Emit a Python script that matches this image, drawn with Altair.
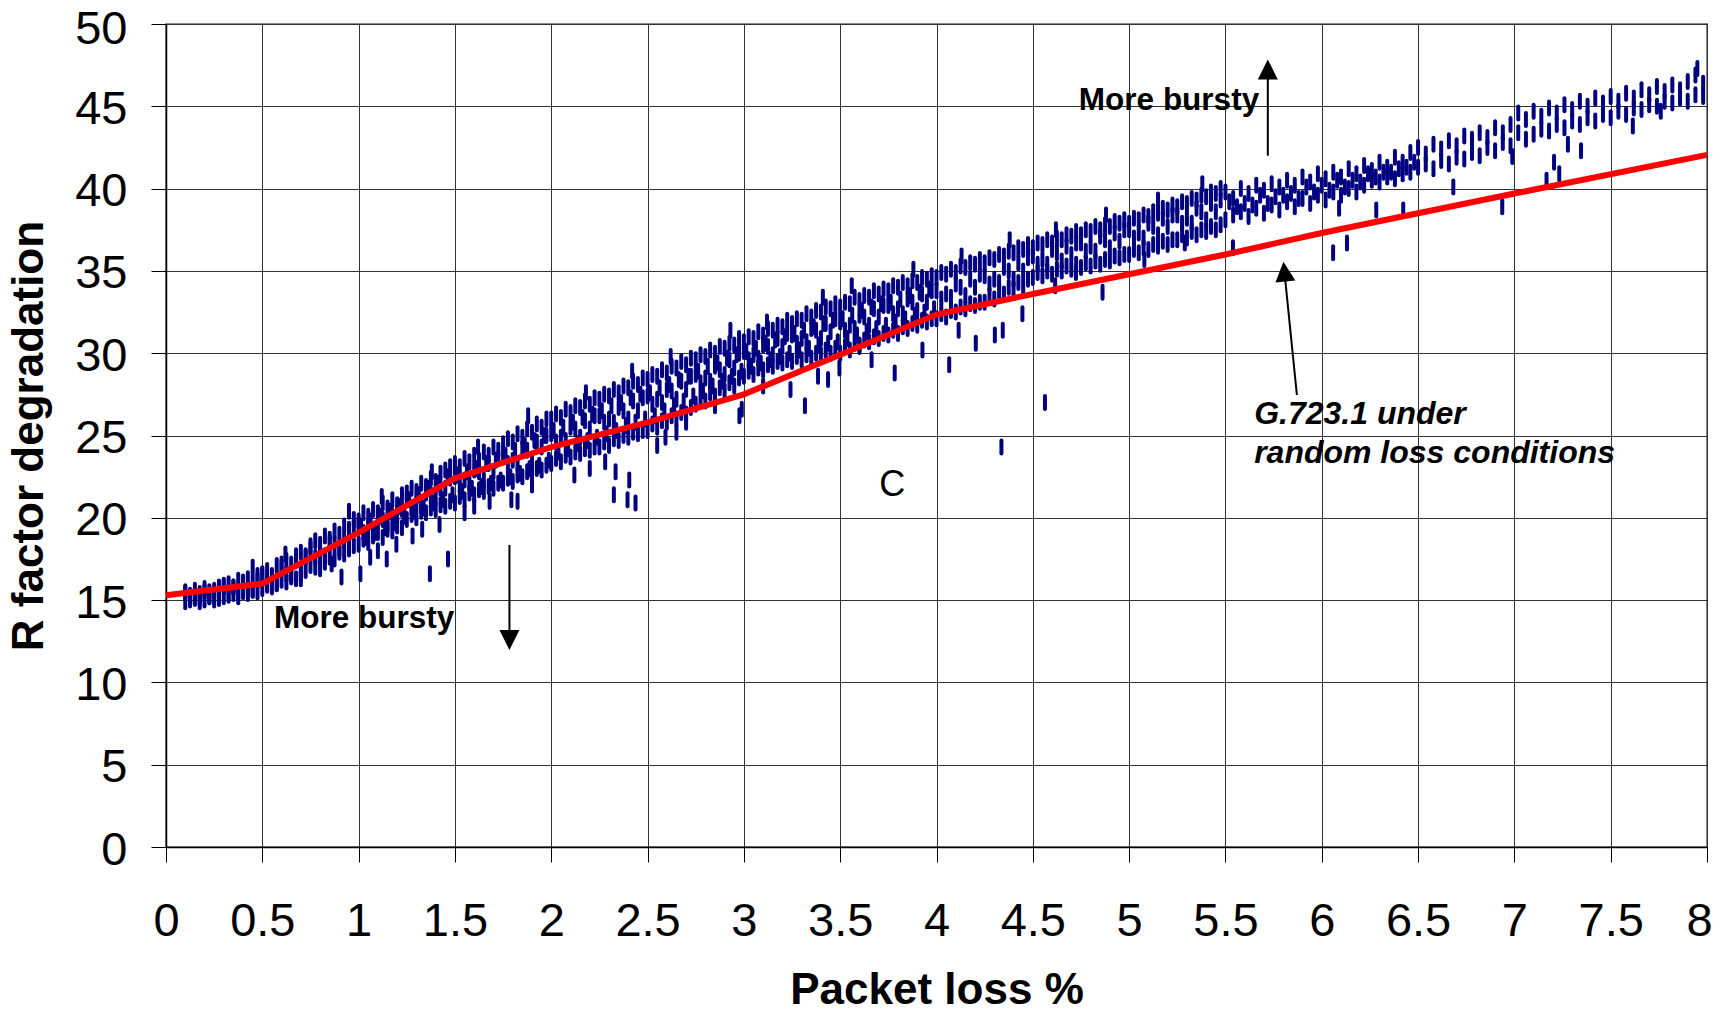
import altair as alt
import pandas as pd

# ---------------- data ----------------
# dense part of the scatter: packet-loss columns, three R readings per column
loss_dense = [
    0.100, 0.125, 0.150, 0.175, 0.200, 0.225, 0.250, 0.275,
    0.300, 0.325, 0.350, 0.375, 0.400, 0.425, 0.450, 0.475,
    0.500, 0.525, 0.550, 0.575, 0.600, 0.625, 0.650, 0.675, 0.700, 0.725,
    0.750, 0.775, 0.800, 0.825, 0.850, 0.875, 0.900, 0.925, 0.950, 0.975,
    1.000, 1.025, 1.050, 1.075, 1.100, 1.125, 1.150, 1.175, 1.200, 1.225,
    1.250, 1.275, 1.300, 1.325, 1.350, 1.375, 1.400, 1.425, 1.450, 1.475,
    1.500, 1.525, 1.550, 1.575, 1.600, 1.625, 1.650, 1.675, 1.700, 1.725,
    1.750, 1.775, 1.800, 1.825, 1.850, 1.875, 1.900, 1.925, 1.950, 1.975,
    2.000, 2.025, 2.050, 2.075, 2.100, 2.125, 2.150, 2.175, 2.200, 2.225,
    2.250, 2.275, 2.300, 2.325, 2.350, 2.375, 2.400, 2.425, 2.450, 2.475,
    2.500, 2.525, 2.550, 2.575, 2.600, 2.625, 2.650, 2.675, 2.700, 2.725,
    2.750, 2.775, 2.800, 2.825, 2.850, 2.875, 2.900, 2.925, 2.950, 2.975,
    3.000, 3.025, 3.050, 3.075, 3.100, 3.125, 3.150, 3.175, 3.200, 3.225,
    3.250, 3.275, 3.300, 3.325, 3.350, 3.375, 3.400, 3.425, 3.450, 3.475,
    3.500, 3.525, 3.550, 3.575, 3.600, 3.625, 3.650, 3.675, 3.700, 3.725,
    3.750, 3.775, 3.800, 3.825, 3.850, 3.875, 3.900, 3.925, 3.950, 3.975,
    4.000, 4.025, 4.050, 4.075, 4.100, 4.125, 4.150, 4.175, 4.200, 4.225,
    4.250, 4.275, 4.300, 4.325, 4.350, 4.375, 4.400, 4.425, 4.450, 4.475,
    4.500, 4.525, 4.550, 4.575, 4.600, 4.625, 4.650, 4.675, 4.700, 4.725,
    4.750, 4.775, 4.800, 4.825, 4.850, 4.875, 4.900, 4.925, 4.950, 4.975,
    5.000, 5.025, 5.050, 5.075, 5.100, 5.125, 5.150, 5.175, 5.200, 5.225,
    5.250, 5.275, 5.300, 5.325, 5.350, 5.375, 5.400, 5.425, 5.450, 5.475,
]
rdeg_dense_top = [
    15.5, 15.3, 15.6, 15.4, 15.7, 15.5, 15.6, 15.8,
    15.9, 16.0, 15.8, 16.2, 16.0, 16.3, 16.1, 16.5,
    16.6, 16.8, 16.5, 17.1, 17.0, 17.4, 17.2, 17.7, 17.9, 17.6,
    18.3, 18.6, 18.4, 18.9, 18.7, 19.2, 19.0, 19.5, 19.3, 19.9,
    19.8, 20.3, 20.1, 20.5, 20.3, 20.9, 20.6, 21.1, 20.8, 21.4,
    21.5, 21.8, 21.6, 22.1, 21.9, 22.4, 22.2, 22.7, 22.9, 23.1,
    23.3, 23.1, 23.6, 23.4, 23.8, 23.5, 24.0, 23.8, 24.3, 24.1,
    24.5, 24.8, 24.6, 25.1, 24.9, 25.4, 25.2, 25.7, 25.5, 26.0,
    26.0, 26.3, 26.1, 26.6, 26.4, 26.8, 26.7, 27.1, 26.9, 27.3,
    27.2, 27.5, 27.4, 27.8, 27.6, 28.0, 27.9, 28.3, 28.1, 28.5,
    28.4, 28.7, 28.6, 29.0, 28.8, 29.2, 29.1, 29.5, 29.3, 29.7,
    29.6, 29.9, 29.8, 30.2, 30.0, 30.4, 30.3, 30.6, 30.5, 30.9,
    30.7, 31.0, 30.9, 31.3, 31.1, 31.5, 31.4, 31.7, 31.6, 32.0,
    31.8, 32.1, 32.0, 32.4, 32.2, 32.6, 32.5, 32.8, 32.7, 33.0,
    32.8, 33.1, 33.0, 33.4, 33.2, 33.5, 33.4, 33.8, 33.6, 33.9,
    33.8, 34.1, 34.0, 34.3, 34.1, 34.4, 34.3, 34.6, 34.5, 34.7,
    34.6, 34.9, 34.8, 35.1, 34.9, 35.3, 35.2, 35.5, 35.4, 35.7,
    35.5, 35.8, 35.7, 36.0, 35.9, 36.2, 36.1, 36.4, 36.3, 36.6,
    36.4, 36.7, 36.6, 36.9, 36.7, 37.0, 36.9, 37.2, 37.1, 37.4,
    37.2, 37.5, 37.4, 37.7, 37.5, 37.8, 37.7, 38.0, 37.9, 38.1,
    37.9, 38.2, 38.1, 38.4, 38.3, 38.6, 38.5, 38.8, 38.7, 39.0,
    38.9, 39.2, 39.1, 39.4, 39.3, 39.6, 39.5, 39.8, 39.7, 40.0,
]
rdeg_dense_mid = [
    15.4, 15.2, 15.2, 15.1, 15.5, 15.2, 15.3, 15.5,
    15.8, 15.4, 15.8, 15.4, 16.1, 15.7, 15.6, 16.2,
    16.5, 16.0, 16.3, 16.0, 17.2, 16.6, 16.5, 17.4, 16.9, 17.7,
    18.1, 17.6, 17.9, 17.7, 18.5, 18.4, 18.1, 18.6, 18.7, 19.4,
    19.6, 19.1, 19.4, 19.2, 20.0, 19.9, 19.6, 20.1, 20.2, 20.5,
    21.1, 20.6, 20.9, 20.7, 21.5, 21.4, 21.2, 21.8, 21.8, 22.4,
    22.5, 22.0, 22.3, 22.1, 22.9, 22.8, 22.3, 23.3, 22.8, 23.6,
    23.7, 23.3, 23.5, 23.3, 24.2, 24.1, 23.5, 24.6, 24.3, 25.0,
    25.1, 24.6, 24.9, 24.7, 25.5, 25.4, 24.9, 25.9, 25.4, 26.2,
    26.2, 25.8, 26.0, 25.8, 26.7, 26.5, 26.0, 27.1, 26.5, 27.3,
    27.4, 26.9, 27.2, 27.0, 27.8, 27.7, 27.2, 28.3, 27.8, 28.6,
    28.7, 28.2, 28.5, 28.3, 29.2, 29.0, 28.7, 29.6, 29.1, 30.0,
    30.1, 29.6, 29.9, 29.7, 30.5, 30.4, 29.9, 30.9, 30.4, 31.2,
    31.1, 30.6, 30.9, 30.7, 31.5, 31.4, 30.9, 31.8, 31.3, 32.1,
    31.9, 31.4, 31.7, 31.5, 32.3, 32.2, 31.7, 32.7, 32.2, 32.9,
    32.9, 32.4, 32.7, 32.4, 33.3, 33.1, 32.6, 33.6, 33.1, 33.8,
    33.8, 33.3, 33.6, 33.4, 34.2, 34.0, 33.5, 34.5, 34.0, 34.8,
    34.7, 34.2, 34.5, 34.3, 35.2, 35.0, 34.5, 35.5, 35.0, 35.8,
    35.9, 35.4, 35.7, 35.4, 36.3, 36.1, 35.6, 36.5, 36.0, 36.7,
    36.7, 36.2, 36.5, 36.2, 37.1, 36.9, 36.4, 37.3, 36.8, 37.5,
    37.5, 37.0, 37.3, 37.0, 37.9, 37.7, 37.2, 38.2, 37.7, 38.4,
    38.4, 37.9, 38.2, 37.9, 38.8, 38.6, 38.1, 39.1, 38.6, 39.3,
]
rdeg_dense_bot = [
    14.9, 15.0, 15.1, 14.9, 15.0, 15.2, 15.0, 15.1,
    15.2, 15.3, 15.4, 15.2, 15.5, 15.4, 15.6, 15.5,
    15.7, 15.9, 15.8, 16.0, 16.2, 16.1, 16.4, 16.3, 16.6, 16.8,
    17.1, 17.0, 17.4, 17.3, 17.6, 17.5, 17.9, 17.8, 18.1, 18.3,
    18.4, 18.7, 18.5, 18.9, 19.1, 18.8, 19.3, 19.2, 19.5, 19.4,
    19.9, 20.2, 20.0, 20.4, 20.3, 20.6, 20.5, 20.8, 20.7, 21.0,
    20.9, 21.3, 21.1, 21.5, 21.4, 21.7, 21.6, 21.9, 21.8, 22.1,
    22.1, 22.4, 22.2, 22.6, 22.5, 22.8, 22.7, 23.0, 22.9, 23.2,
    23.3, 23.6, 23.4, 23.8, 23.7, 24.0, 23.9, 24.2, 24.1, 24.3,
    24.3, 24.6, 24.4, 24.8, 24.7, 25.0, 24.9, 25.2, 25.1, 25.3,
    25.3, 25.7, 25.5, 25.9, 25.8, 26.2, 26.0, 26.4, 26.3, 26.7,
    26.9, 27.3, 27.1, 27.6, 27.4, 27.9, 27.7, 28.2, 28.0, 28.5,
    28.6, 28.9, 28.7, 29.1, 29.0, 29.3, 29.2, 29.5, 29.4, 29.6,
    29.5, 29.8, 29.6, 29.9, 29.7, 30.0, 29.9, 30.2, 30.0, 30.3,
    30.0, 30.4, 30.2, 30.6, 30.5, 30.8, 30.7, 31.0, 30.9, 31.2,
    31.1, 31.4, 31.2, 31.6, 31.5, 31.8, 31.7, 32.0, 31.9, 32.1,
    32.1, 32.4, 32.2, 32.6, 32.5, 32.8, 32.7, 33.0, 32.9, 33.1,
    33.1, 33.5, 33.3, 33.8, 33.6, 34.0, 33.9, 34.3, 34.1, 34.5,
    34.6, 34.9, 34.7, 35.0, 34.8, 35.1, 35.0, 35.3, 35.1, 35.4,
    35.2, 35.5, 35.3, 35.6, 35.4, 35.7, 35.6, 35.9, 35.8, 36.0,
    36.0, 36.3, 36.1, 36.4, 36.3, 36.6, 36.5, 36.8, 36.6, 36.9,
    36.9, 37.2, 37.0, 37.4, 37.2, 37.5, 37.4, 37.7, 37.5, 37.8,
]
# extra readings between the columns where the band is solid (1 .. 4)
loss_fill = [
    1.0125, 1.0375, 1.0625, 1.0875, 1.1125, 1.1375, 1.1625, 1.1875, 1.2125, 1.2375,
    1.2625, 1.2875, 1.3125, 1.3375, 1.3625, 1.3875, 1.4125, 1.4375, 1.4625, 1.4875,
    1.5125, 1.5375, 1.5625, 1.5875, 1.6125, 1.6375, 1.6625, 1.6875, 1.7125, 1.7375,
    1.7625, 1.7875, 1.8125, 1.8375, 1.8625, 1.8875, 1.9125, 1.9375, 1.9625, 1.9875,
    2.0125, 2.0375, 2.0625, 2.0875, 2.1125, 2.1375, 2.1625, 2.1875, 2.2125, 2.2375,
    2.2625, 2.2875, 2.3125, 2.3375, 2.3625, 2.3875, 2.4125, 2.4375, 2.4625, 2.4875,
    2.5125, 2.5375, 2.5625, 2.5875, 2.6125, 2.6375, 2.6625, 2.6875, 2.7125, 2.7375,
    2.7625, 2.7875, 2.8125, 2.8375, 2.8625, 2.8875, 2.9125, 2.9375, 2.9625, 2.9875,
    3.0125, 3.0375, 3.0625, 3.0875, 3.1125, 3.1375, 3.1625, 3.1875, 3.2125, 3.2375,
    3.2625, 3.2875, 3.3125, 3.3375, 3.3625, 3.3875, 3.4125, 3.4375, 3.4625, 3.4875,
    3.5125, 3.5375, 3.5625, 3.5875, 3.6125, 3.6375, 3.6625, 3.6875, 3.7125, 3.7375,
    3.7625, 3.7875, 3.8125, 3.8375, 3.8625, 3.8875, 3.9125, 3.9375, 3.9625, 3.9875,
]
rdeg_fill = [
    19.5, 18.8, 19.8, 19.1, 20.1, 19.4, 20.4, 19.7, 20.7, 20.1,
    21.1, 20.4, 21.4, 20.6, 21.8, 20.9, 22.1, 21.1, 22.5, 21.4,
    22.6, 21.6, 22.8, 21.8, 23.0, 21.9, 23.3, 22.1, 23.5, 22.3,
    23.8, 22.5, 24.1, 22.7, 24.4, 23.0, 24.7, 23.2, 25.0, 23.5,
    25.3, 24.0, 25.5, 24.2, 25.8, 24.5, 26.1, 24.7, 26.3, 24.9,
    26.5, 25.1, 26.8, 25.3, 27.0, 25.6, 27.3, 25.8, 27.5, 26.0,
    27.6, 26.2, 27.9, 26.5, 28.1, 26.8, 28.4, 27.1, 28.6, 27.4,
    28.9, 27.7, 29.2, 28.0, 29.4, 28.3, 29.7, 28.6, 29.9, 28.9,
    30.1, 29.2, 30.3, 29.4, 30.6, 29.6, 30.8, 29.8, 31.0, 30.0,
    31.2, 30.2, 31.4, 30.3, 31.6, 30.5, 31.8, 30.6, 32.0, 30.7,
    32.1, 30.9, 32.3, 31.1, 32.6, 31.3, 32.8, 31.5, 33.0, 31.7,
    33.1, 31.9, 33.3, 32.1, 33.5, 32.3, 33.7, 32.5, 33.9, 32.7,
]
# sparser part of the scatter (x > 5.5)
loss_sparse = [
    5.50, 5.54, 5.58, 5.62, 5.66, 5.70, 5.74, 5.78, 5.82, 5.86, 5.90, 5.94, 5.98,
    6.02, 6.06, 6.10, 6.14, 6.18, 6.22, 6.26, 6.30, 6.34, 6.38, 6.42, 6.46,
    6.50, 6.54, 6.58, 6.62, 6.66, 6.70, 6.74, 6.78, 6.82, 6.86, 6.90, 6.94, 6.98,
    7.02, 7.06, 7.10, 7.14, 7.18, 7.22, 7.26, 7.30, 7.34, 7.38, 7.42, 7.46,
    7.50, 7.54, 7.58, 7.62, 7.66, 7.70, 7.74, 7.78, 7.82, 7.86, 7.90, 7.94, 7.98,
]
rdeg_sparse_hi = [
    39.8, 39.4, 40.0, 39.7, 40.2, 39.9, 40.3, 40.1, 40.5, 40.2, 40.7, 40.4, 40.9,
    40.6, 41.0, 40.7, 41.2, 40.9, 41.4, 41.1, 41.6, 41.3, 41.9, 41.6, 42.2,
    42.5, 42.1, 42.7, 42.4, 42.9, 42.6, 43.2, 43.0, 43.4, 43.1, 43.7, 43.4, 43.9,
    44.6, 44.2, 44.7, 44.4, 44.9, 44.6, 45.1, 44.8, 45.3, 45.0, 45.5, 45.2,
    45.6, 45.3, 45.8, 45.5, 46.0, 45.7, 46.2, 45.9, 46.3, 46.0, 46.5, 46.9, 46.4,
]
rdeg_sparse_lo = [
    38.1, 38.4, 38.6, 38.3, 38.8, 38.5, 39.0, 38.7, 39.2, 38.9, 39.4, 39.1, 39.6,
    39.3, 39.8, 39.6, 40.0, 39.8, 40.2, 40.5, 40.4, 40.7, 40.6, 40.9, 41.0,
    41.3, 41.5, 41.2, 41.7, 41.5, 41.9, 41.8, 42.2, 42.0, 42.5, 42.3, 42.8, 42.6,
    43.4, 43.0, 43.3, 43.6, 43.5, 43.9, 43.7, 44.1, 43.9, 44.3, 44.1, 44.5,
    44.3, 44.7, 44.5, 44.9, 44.8, 45.1, 45.0, 45.3, 45.2, 45.5, 45.3, 45.7, 45.6,
]
# a middle reading for the busier stretch 5.5 .. 6.46
loss_sparse_mid = [
    5.52, 5.56, 5.60, 5.64, 5.68, 5.72, 5.76, 5.80, 5.84, 5.88, 5.92, 5.96, 6.00,
    6.04, 6.08, 6.12, 6.16, 6.20, 6.24, 6.28, 6.32, 6.36, 6.40, 6.44, 6.48,
]
rdeg_sparse_mid = [
    39.2, 38.9, 39.1, 39.0, 39.6, 39.1, 39.5, 39.6, 39.7, 39.4, 40.1, 39.8, 40.2,
    39.9, 40.5, 40.1, 40.5, 40.4, 40.9, 40.7, 41.0, 41.0, 41.2, 41.3, 41.6,
]
# readings that poke above the top of the band
loss_high = [
    0.45, 0.62, 0.95, 1.12, 1.38, 1.62, 1.88, 2.18, 2.42, 2.62, 2.93,
    3.12, 3.41, 3.56, 3.88, 4.13, 4.38, 4.62, 4.88, 5.15, 5.38,
]
rdeg_high = [
    17.0, 17.8, 20.4, 21.3, 22.8, 24.3, 26.2, 27.6, 28.9, 29.8, 31.4,
    31.9, 33.4, 34.1, 35.1, 35.9, 36.9, 37.5, 38.4, 39.3, 40.3,
]
# readings that fall below the main band
loss_low = [
    0.70, 0.80, 0.86, 0.911, 1.009, 1.06, 1.10, 1.146, 1.196, 1.28, 1.33, 1.37,
    1.42, 1.464, 1.55, 1.60, 1.68, 1.793, 1.825, 1.90, 2.12, 2.20, 2.28, 2.325,
    2.334, 2.396, 2.405, 2.4375, 2.55, 2.593, 2.65, 2.70, 2.85, 2.977, 2.989,
    3.10, 3.242, 3.317, 3.385, 3.437, 3.496, 3.60, 3.663, 3.783, 3.927, 4.066,
    4.115, 4.204, 4.303, 4.337, 4.344, 4.446, 4.563, 4.616, 4.724, 4.862, 5.079,
    5.289, 5.539, 6.059, 6.09, 6.131, 6.283, 6.423, 6.683, 6.937, 6.989, 7.167,
    7.206, 7.233, 7.278, 7.346, 7.615, 7.76, 7.95,
]
rdeg_low = [
    16.3, 16.9, 17.2, 16.4, 16.6, 17.6, 18.0, 17.5, 18.4, 18.9, 19.3, 16.6,
    19.6, 17.5, 20.3, 20.7, 21.0, 21.1, 21.0, 22.0, 22.6, 23.0, 23.4, 21.4,
    22.8, 21.1, 22.3, 20.9, 24.4, 24.9, 25.2, 25.8, 26.8, 26.2, 26.6,
    28.0, 27.8, 26.8, 28.6, 28.4, 29.1, 30.4, 29.6, 28.8, 30.2, 29.3,
    31.4, 30.6, 31.1, 24.3, 31.4, 32.4, 27.0, 34.1, 34.9, 33.7, 35.7,
    36.7, 36.4, 36.1, 38.8, 36.7, 38.7, 38.7, 40.1, 38.9, 41.95, 40.5,
    41.6, 40.9, 42.7, 42.3, 43.8, 44.7, 47.3,
]

# G.723.1 under random loss conditions (red line)
red_loss = [0, 0.5, 1, 1.5, 2, 2.5, 3, 3.5, 4, 4.5, 5, 5.5, 6, 7, 8]
red_rdeg = [15.3, 16.0, 19.1, 22.4, 24.3, 25.8, 27.5, 29.9, 32.35, 33.6, 34.8, 36.0, 37.3, 39.7, 42.05]

x_ticks = [0, 0.5, 1, 1.5, 2, 2.5, 3, 3.5, 4, 4.5, 5, 5.5, 6, 6.5, 7, 7.5, 8]
y_ticks = [0, 5, 10, 15, 20, 25, 30, 35, 40, 45, 50]

# annotations
ann_bold_text = ["More bursty", "More bursty"]
ann_bold_loss = [5.675, 0.561]
ann_bold_rdeg = [44.8, 13.3]
ann_bold_align = ["right", "left"]

g_text = ["G.723.1 under", "random loss conditions"]
g_loss = [5.649, 5.649]
g_rdeg = [25.68, 23.31]

c_text = ["C"]
c_loss = [3.77]
c_rdeg = [21.3]

arrow_loss = [5.72, 1.783, 5.871]
arrow_rdeg = [42.0, 18.35, 27.46]
arrow_loss2 = [5.72, 1.783, 5.811]
arrow_rdeg2 = [46.9, 13.1, 34.4]
head_loss = [5.72, 1.783, 5.801]
head_rdeg = [47.85, 11.97, 35.56]
head_angle = [0, 180, 354.3]

# ---------------- tables ----------------
rows = []
for xv, a, b, c in zip(loss_dense, rdeg_dense_top, rdeg_dense_mid, rdeg_dense_bot):
    rows.append({"loss": xv, "r": a})
    rows.append({"loss": xv, "r": b})
    rows.append({"loss": xv, "r": c})
for xv, a, b in zip(loss_sparse, rdeg_sparse_hi, rdeg_sparse_lo):
    rows.append({"loss": xv, "r": a})
    rows.append({"loss": xv, "r": b})
for xs, ys in ((loss_fill, rdeg_fill), (loss_sparse_mid, rdeg_sparse_mid),
               (loss_high, rdeg_high), (loss_low, rdeg_low)):
    for xv, yv in zip(xs, ys):
        rows.append({"loss": xv, "r": yv})
scatter_df = pd.DataFrame(rows)

red_df = pd.DataFrame({"loss": red_loss, "r": red_rdeg})
bold_df = pd.DataFrame({"loss": ann_bold_loss, "r": ann_bold_rdeg,
                        "t": ann_bold_text, "a": ann_bold_align})
g_df = pd.DataFrame({"loss": g_loss, "r": g_rdeg, "t": g_text})
c_df = pd.DataFrame({"loss": c_loss, "r": c_rdeg, "t": c_text})
arrow_df = pd.DataFrame({"loss": arrow_loss, "r": arrow_rdeg,
                         "loss2": arrow_loss2, "r2": arrow_rdeg2})
head_df = pd.DataFrame({"loss": head_loss, "r": head_rdeg, "ang": head_angle})

FONT = "Liberation Sans"
W, H = 1541, 823

xscale = alt.Scale(domain=[0, 8], nice=False, zero=False)
yscale = alt.Scale(domain=[0, 50], nice=False, zero=False)

x_axis = alt.Axis(values=x_ticks, labelExpr="datum.value", labelFlush=False,
                  labelOverlap=False, labelPadding=36, tickSize=15,
                  labelOffset={"condition": {"test": "datum.value == 8", "value": -8},
                               "value": 0},
                  title="Packet loss %", titleX=W / 2, titleY=156,
                  titleAlign="center", titleBaseline="alphabetic")
y_axis = alt.Axis(values=y_ticks, labelExpr="datum.value", labelFlush=False,
                  labelOverlap=False, labelPadding=24, tickSize=15,
                  labelOffset={"condition": {"test": "datum.value == 50", "value": 5},
                               "value": 3},
                  title="R factor degradation", titleX=-124, titleY=H / 2,
                  titleAngle=270, titleAlign="center", titleBaseline="alphabetic")

X = alt.X("loss:Q", scale=xscale, axis=x_axis)
Y = alt.Y("r:Q", scale=yscale, axis=y_axis)

scatter = alt.Chart(scatter_df).mark_point(
    shape="M0,-1L0,1", size=169, filled=False, stroke="#000080",
    strokeWidth=4, strokeCap="round", opacity=1,
).encode(x=X, y=Y)

red = alt.Chart(red_df).mark_line(color="#FF0000", strokeWidth=6).encode(x=X, y=Y)

arrows = alt.Chart(arrow_df).mark_rule(color="black", strokeWidth=2).encode(
    x=X, y=Y, x2="loss2:Q", y2="r2:Q",
)

heads = alt.Chart(head_df).mark_point(
    shape="M0,0L-1,2L1,2Z", size=400, filled=True, color="black", opacity=1,
).encode(x=X, y=Y, angle=alt.Angle("ang:Q", scale=None))

bold_right = alt.Chart(bold_df[bold_df["a"] == "right"]).mark_text(
    font=FONT, fontSize=31.5, fontWeight="bold", align="right",
    baseline="alphabetic", color="black",
).encode(x=X, y=Y, text="t:N")
bold_left = alt.Chart(bold_df[bold_df["a"] == "left"]).mark_text(
    font=FONT, fontSize=31.5, fontWeight="bold", align="left",
    baseline="alphabetic", color="black",
).encode(x=X, y=Y, text="t:N")
g_label = alt.Chart(g_df).mark_text(
    font=FONT, fontSize=32, fontWeight="bold", fontStyle="italic",
    align="left", baseline="alphabetic", color="black",
).encode(x=X, y=Y, text="t:N")
c_label = alt.Chart(c_df).mark_text(
    font=FONT, fontSize=36, align="center", baseline="alphabetic", color="black",
).encode(x=X, y=Y, text="t:N")

chart = alt.layer(
    scatter, red, arrows, heads, bold_right, bold_left, g_label, c_label
).properties(
    width=W, height=H,
    autosize=alt.AutoSizeParams(type="none"),
    padding={"left": 158, "top": 16, "right": 5, "bottom": 164},
).configure_axis(
    labelFont=FONT, labelFontSize=47, labelColor="black",
    titleFont=FONT, titleFontSize=44, titleFontWeight="bold", titleColor="black",
    tickColor="black", tickWidth=1, domainColor="black", domainWidth=1.5,
    gridColor="#333333", gridWidth=1, gridOpacity=1,
).configure_view(
    stroke="#888888", strokeWidth=2,
)

chart.save("out.html", embed_options={"renderer": "svg", "actions": False})
